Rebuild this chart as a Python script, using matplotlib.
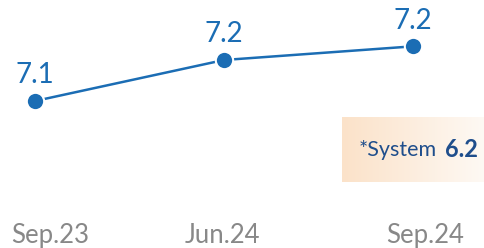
import matplotlib
matplotlib.use("Agg")
import matplotlib.pyplot as plt
import matplotlib.transforms as mtransforms
import numpy as np
from matplotlib.colors import LinearSegmentedColormap

categories = ["Sep.23", "Jun.24", "Sep.24"]
values = [7.13, 7.22, 7.25]
value_labels = ["7.1", "7.2", "7.2"]
system_label = "*System"
system_value = "6.2"

plt.rcParams['font.family'] = ['Lato', 'DejaVu Sans']

W, H = 485, 248
fig = plt.figure(figsize=(W / 100, H / 100), dpi=100)
ax = fig.add_axes([0, 33 / H, 1, 215 / H])
ax.set_xlim(-0.185, 2.381)
ax.set_ylim(6.8798, 7.3517)
for s in ax.spines.values():
    s.set_visible(False)
ax.set_yticks([])

blue = "#1b6db4"
x = np.arange(len(categories))
ax.plot(x, values, color=blue, lw=1.8, zorder=2)
ax.plot(x, values, 'o', color=blue, ms=12.5, mec='white', mew=1.5, zorder=3)
for xi, v, lab in zip(x, values, value_labels):
    ax.annotate(lab, (xi, v), xytext=(0, 18.5), textcoords='offset points',
                ha='center', va='center', fontsize=20, color=blue)

ax.set_xticks(x)
ax.set_xticklabels(categories, fontsize=18.5, color="#888888")
ax.tick_params(axis='x', length=0, pad=6)
offsets = [15, -2, 12]
for lbl, dx in zip(ax.get_xticklabels(), offsets):
    lbl.set_transform(lbl.get_transform() + mtransforms.ScaledTranslation(dx / 100, 0, fig.dpi_scale_trans))

# gradient box
bx = fig.add_axes([342 / W, (H - 182) / H, (W - 342) / W, 65 / H])
cmap = LinearSegmentedColormap.from_list("g", ["#fbe2c9", "#fef9f4"])
bx.imshow(np.linspace(0, 1, 256).reshape(1, -1), aspect='auto', cmap=cmap,
          extent=[0, 1, 0, 1])
bx.set_xlim(0, 1)
bx.set_ylim(0, 1)
bx.axis('off')
bx.text(17 / 143, 0.5, system_label, ha='left', va='center', fontsize=15.5,
        color="#1f4e8c", transform=bx.transAxes)
bx.text(136 / 143, 0.5, system_value, ha='right', va='center', fontsize=17,
        fontweight='bold', color="#1f4e8c", transform=bx.transAxes)

fig.savefig("out.png", dpi=100)
